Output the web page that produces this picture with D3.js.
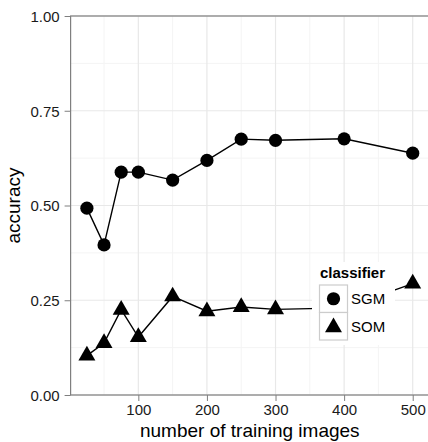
<!DOCTYPE html>
<html>
<head>
<meta charset="utf-8">
<script src="https://cdn.jsdelivr.net/npm/d3@7"></script>
<style>
  body { margin: 0; background: #fff; }
  text { font-family: "Liberation Sans", Arial, sans-serif; }
  .tick text { font-size: 15px; fill: #1a1a1a; }
  .axis-label { font-size: 19px; fill: #000; }
</style>
</head>
<body>
<svg width="428" height="442"></svg>
<script>
const svg = d3.select('svg');

// data
const trainingImages = [25, 50, 75, 100, 150, 200, 250, 300, 400, 500];
const sgmAccuracy = [0.493, 0.396, 0.588, 0.588, 0.567, 0.619, 0.675, 0.672, 0.676, 0.638];
const somAccuracy = [0.104, 0.137, 0.225, 0.153, 0.260, 0.221, 0.232, 0.226, 0.230, 0.294];
const classifiers = ['SGM', 'SOM'];
const xTicks = [100, 200, 300, 400, 500];
const xMinorTicks = [50, 150, 250, 350, 450];
const yTicks = [0, 0.25, 0.5, 0.75, 1];
const yMinorTicks = [0.125, 0.375, 0.625, 0.875];

const series = [
  { name: 'SGM', values: trainingImages.map((x, i) => ({ x, y: sgmAccuracy[i] })) },
  { name: 'SOM', values: trainingImages.map((x, i) => ({ x, y: somAccuracy[i] })) },
];

const panel = { left: 70.6, right: 429, top: 16, bottom: 395 };

const xScale = d3.scaleLinear()
  .domain([1.25, 523.75])
  .range([panel.left, panel.right]);

const yScale = d3.scaleLinear()
  .domain([0, 1])
  .range([panel.bottom, panel.top]);

const symbolFor = d3.scaleOrdinal()
  .domain(classifiers)
  .range([
    d3.symbol().type(d3.symbolCircle).size(Math.PI * 6.6 * 6.6),
    d3.symbol().type(d3.symbolTriangle).size(125),
  ]);

// minor grid
svg.append('g').selectAll('line').data(xMinorTicks).join('line')
  .attr('x1', d => xScale(d)).attr('x2', d => xScale(d))
  .attr('y1', panel.top).attr('y2', panel.bottom)
  .attr('stroke', '#f4f4f4').attr('stroke-width', 1);
svg.append('g').selectAll('line').data(yMinorTicks).join('line')
  .attr('x1', panel.left).attr('x2', panel.right)
  .attr('y1', d => yScale(d)).attr('y2', d => yScale(d))
  .attr('stroke', '#f4f4f4').attr('stroke-width', 1);

// major grid
svg.append('g').selectAll('line').data(xTicks).join('line')
  .attr('x1', d => xScale(d)).attr('x2', d => xScale(d))
  .attr('y1', panel.top).attr('y2', panel.bottom)
  .attr('stroke', '#e8e8e8').attr('stroke-width', 1.2);
svg.append('g').selectAll('line').data(yTicks).join('line')
  .attr('x1', panel.left).attr('x2', panel.right)
  .attr('y1', d => yScale(d)).attr('y2', d => yScale(d))
  .attr('stroke', '#e8e8e8').attr('stroke-width', 1.2);

// lines
const lineGenerator = d3.line()
  .x(d => xScale(d.x))
  .y(d => yScale(d.y));

svg.append('g').selectAll('path').data(series).join('path')
  .attr('d', d => lineGenerator(d.values))
  .attr('fill', 'none')
  .attr('stroke', '#000')
  .attr('stroke-width', 1.4);

// points
series.forEach(s => {
  svg.append('g').selectAll('path').data(s.values).join('path')
    .attr('transform', d => `translate(${xScale(d.x)},${yScale(d.y)})`)
    .attr('d', symbolFor(s.name)())
    .attr('fill', '#000');
});

// axes
const xAxis = d3.axisBottom(xScale)
  .tickValues(xTicks)
  .tickSize(6)
  .tickPadding(3);
const xAxisGroup = svg.append('g')
  .attr('transform', `translate(0, ${panel.bottom})`)
  .call(xAxis);
xAxisGroup.selectAll('.domain').remove();
xAxisGroup.selectAll('.tick line').attr('stroke', '#7f7f7f');

const yAxis = d3.axisLeft(yScale)
  .tickValues(yTicks)
  .tickFormat(d3.format('.2f'))
  .tickSize(6)
  .tickPadding(5);
const yAxisGroup = svg.append('g')
  .attr('transform', `translate(${panel.left}, 0)`)
  .call(yAxis);
yAxisGroup.selectAll('.domain').remove();
yAxisGroup.selectAll('.tick line').attr('stroke', '#7f7f7f');
xAxisGroup.selectAll('.tick text').attr('dy', '0.71em');
yAxisGroup.selectAll('.tick text').attr('dy', '0.36em');

// panel border
svg.append('rect')
  .attr('x', panel.left).attr('y', panel.top)
  .attr('width', panel.right - panel.left)
  .attr('height', panel.bottom - panel.top)
  .attr('fill', 'none')
  .attr('stroke', '#7f7f7f')
  .attr('stroke-width', 1.2);

svg.append('text')
  .attr('class', 'axis-label')
  .attr('x', (panel.left + panel.right) / 2)
  .attr('y', 437)
  .attr('text-anchor', 'middle')
  .text('number of training images');

svg.append('text')
  .attr('class', 'axis-label')
  .attr('transform', `translate(20, ${(panel.top + panel.bottom) / 2}) rotate(-90)`)
  .attr('text-anchor', 'middle')
  .text('accuracy');

// legend
const legend = svg.append('g');
legend.append('rect')
  .attr('x', 312).attr('y', 262)
  .attr('width', 83).attr('height', 83)
  .attr('fill', '#fff');
legend.append('text')
  .attr('x', 320).attr('y', 278)
  .attr('font-size', 15)
  .attr('font-weight', 'bold')
  .text('classifier');

const keyH = 27.5;
const keys = legend.selectAll('g.key').data(classifiers).join('g')
  .attr('class', 'key')
  .attr('transform', (d, i) => `translate(319.5, ${285 + i * keyH})`);
keys.append('rect')
  .attr('width', 28).attr('height', keyH)
  .attr('fill', '#fff')
  .attr('stroke', '#cccccc')
  .attr('stroke-width', 1.2);
keys.append('path')
  .attr('transform', (d, i) => `translate(14, ${keyH / 2 + (i === 1 ? 1 : 0)})`)
  .attr('d', d => symbolFor(d)())
  .attr('fill', '#000');
keys.append('text')
  .attr('x', 31.5).attr('y', keyH / 2)
  .attr('dy', '0.36em')
  .attr('font-size', 15)
  .text(d => d);
</script>
</body>
</html>
